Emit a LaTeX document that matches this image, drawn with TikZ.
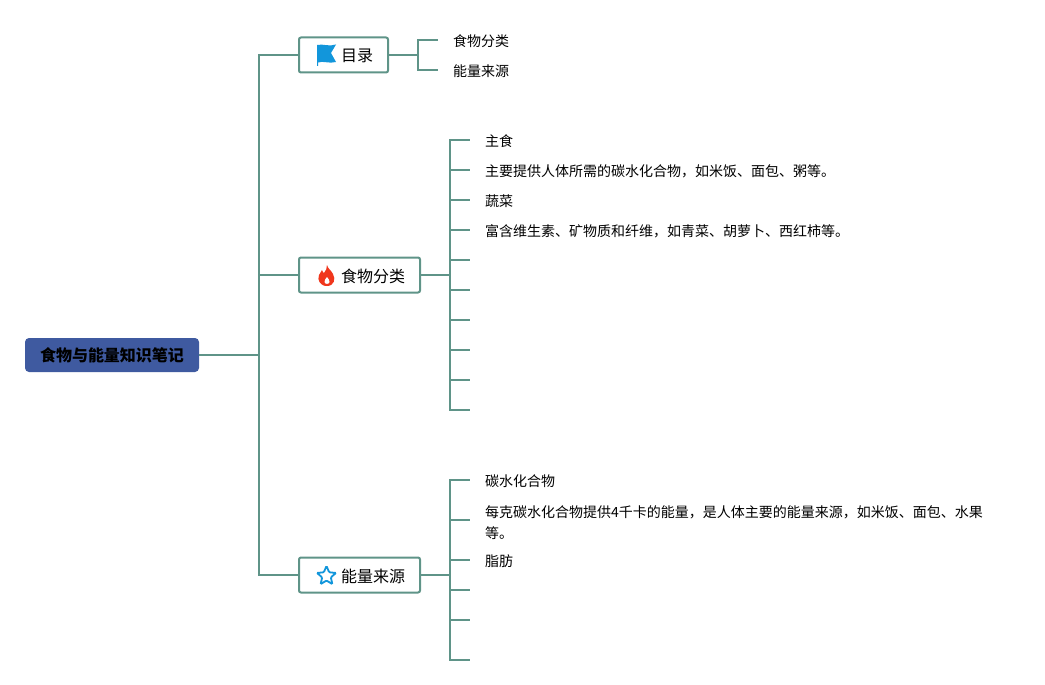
\documentclass[tikz,border=0pt]{standalone}
\usepackage{fontspec}
\setmainfont{Noto Sans CJK SC}
\usepackage{xcolor}
\usetikzlibrary{calc,positioning,shapes.geometric}
\definecolor{inkblue}{HTML}{3F5AA0}
\definecolor{branch}{HTML}{5F9488}
\definecolor{flagblue}{HTML}{1296DB}
\definecolor{flame}{HTML}{F0361C}
\tikzset{
  every node/.style={font=\fontsize{14}{21}\selectfont},
  link/.style={draw=branch,line width=2pt},
  rootbox/.style={rounded corners=4pt,fill=inkblue,minimum width=174pt,minimum height=34pt,inner sep=0pt,text height=15pt,text depth=2pt,font=\fontsize{16}{20}\selectfont\bfseries},
  topic/.style={rounded corners=2pt,draw=branch,line width=2pt,fill=white,minimum height=35pt,inner xsep=15pt,inner ysep=0pt,text height=16pt,text depth=2pt,font=\fontsize{16}{20}\selectfont},
  leaf/.style={anchor=west,inner xsep=15pt,inner ysep=0pt,align=left,execute at begin node={\rule[-3pt]{0pt}{18.5pt}}},
}
\begin{document}
\begin{tikzpicture}[x=1pt,y=-1pt]
  \useasboundingbox (0,0) rectangle (1045,685);
  \node[rootbox] (root) at (112,355) {食物与能量知识笔记};
  \coordinate (trunk) at (259,355);
  % topics
  \node[topic,anchor=west] (toc) at (298,55) {\hspace{27pt}目录};
  \node[topic,anchor=west] (food) at (298,275) {\hspace{27pt}食物分类};
  \node[topic,anchor=west] (energy) at (298,575) {\hspace{27pt}能量来源};
  % icons
  \fill[flagblue] (317,45) .. controls (323,43.5) and (329,47) .. (336,44.5) -- (331,53) -- (336,62) .. controls (329,64) and (323,60.5) .. (318,62.5) -- (318,66) -- (317,66) -- cycle;
  \fill[flame] (327,265) .. controls (328,269) and (331,270) .. (333,274) .. controls (336,279) and (334,286) .. (327,286) .. controls (320,286) and (317,280) .. (319,275) .. controls (320,273) and (321,272) .. (322,270) .. controls (323,272) and (323,273) .. (324,273) .. controls (326,271) and (327,268) .. (327,265) -- cycle;
  \fill[white] (327,277) .. controls (328,279) and (330,280) .. (329.5,282) .. controls (329,284.5) and (325,284.5) .. (324.5,282) .. controls (324,280) and (326,279) .. (327,277) -- cycle;
  \node[star,star points=5,star point ratio=2.2,draw=flagblue,line width=1.8pt,rounded corners=1pt,minimum size=20pt,inner sep=0pt] (staricon) at (326.5,576) {};
  % leaves
  \node[leaf] (t1) at (438,40) {食物分类};
  \node[leaf] (t2) at (438,70) {能量来源};
  \node[leaf] (a1) at (470,140) {主食};
  \node[leaf] (a2) at (470,170) {主要提供人体所需的碳水化合物，如米饭、面包、粥等。};
  \node[leaf] (a3) at (470,200) {蔬菜};
  \node[leaf] (a4) at (470,230) {富含维生素、矿物质和纤维，如青菜、胡萝卜、西红柿等。};
  \coordinate (a5) at (470,260);
  \coordinate (a6) at (470,290);
  \coordinate (a7) at (470,320);
  \coordinate (a8) at (470,350);
  \coordinate (a9) at (470,380);
  \coordinate (a10) at (470,410);
  \node[leaf] (b1) at (470,480) {碳水化合物};
  \node[leaf] (b2) at (470,520) {\rule{0pt}{19.5pt}每克碳水化合物提供4千卡的能量，是人体主要的能量来源，如米饭、面包、水果\\等。};
  \node[leaf] (b3) at (470,560) {脂肪};
  \coordinate (b4) at (470,590);
  \coordinate (b5) at (470,620);
  \coordinate (b6) at (470,660);
  % connectors
  \coordinate (tocbus) at (418,55);
  \coordinate (foodbus) at (450,275);
  \coordinate (energybus) at (450,575);
  \draw[link] (root.east) -- (trunk);
  \draw[link] (trunk) |- (toc.west);
  \draw[link] (trunk) |- (food.west);
  \draw[link] (trunk) |- (energy.west);
  \draw[link] (toc.east) -- (tocbus);
  \draw[link] (tocbus) |- (t1.west);
  \draw[link] (tocbus) |- (t2.west);
  \draw[link] (food.east) -- (foodbus);
  \draw[link] (foodbus) |- (a1.west);
  \draw[link] (foodbus) |- (a2.west);
  \draw[link] (foodbus) |- (a3.west);
  \draw[link] (foodbus) |- (a4.west);
  \draw[link] (foodbus) |- (a5);
  \draw[link] (foodbus) |- (a6);
  \draw[link] (foodbus) |- (a7);
  \draw[link] (foodbus) |- (a8);
  \draw[link] (foodbus) |- (a9);
  \draw[link] (foodbus) |- (a10);
  \draw[link] (energy.east) -- (energybus);
  \draw[link] (energybus) |- (b1.west);
  \draw[link] (energybus) |- (b2.west);
  \draw[link] (energybus) |- (b3.west);
  \draw[link] (energybus) |- (b4);
  \draw[link] (energybus) |- (b5);
  \draw[link] (energybus) |- (b6);
\end{tikzpicture}
\end{document}
